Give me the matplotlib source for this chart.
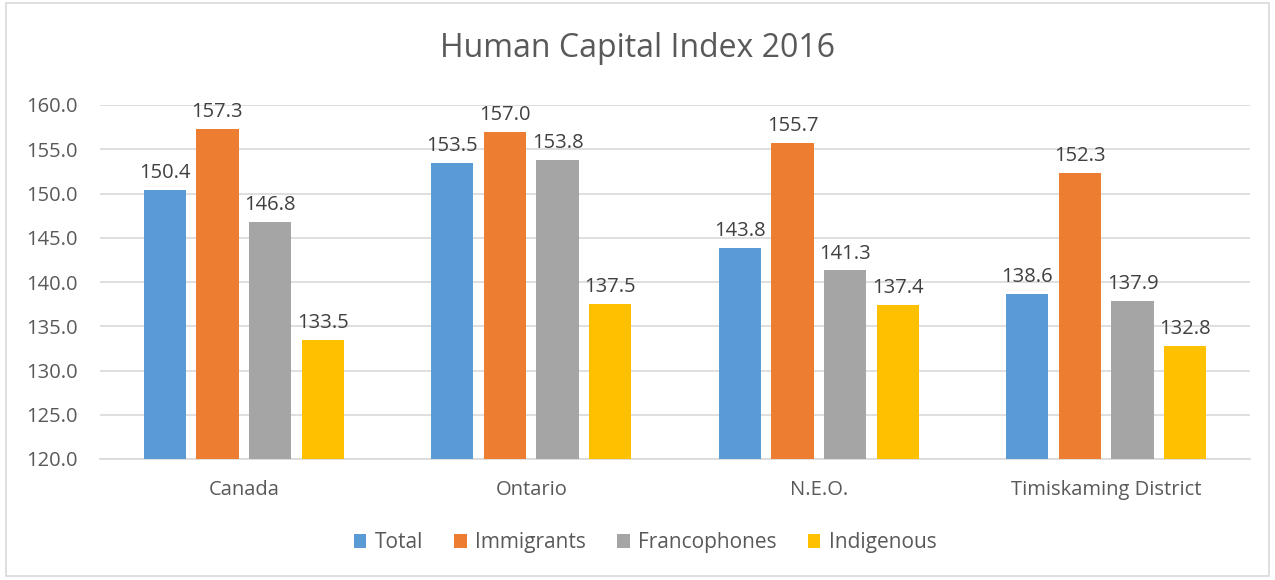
import numpy as np
import matplotlib.pyplot as plt

plt.rcParams['font.family'] = ['Open Sans', 'DejaVu Sans']

regions = ['Canada', 'Ontario', 'N.E.O.', 'Timiskaming District']
series = ['Total', 'Immigrants', 'Francophones', 'Indigenous']
total = [150.4, 153.5, 143.8, 138.6]
immigrants = [157.3, 157.0, 155.7, 152.3]
francophones = [146.8, 153.8, 141.3, 137.9]
indigenous = [133.5, 137.5, 137.4, 132.8]
colors = ['#5b9bd5', '#ed7d31', '#a5a5a5', '#ffc000']

fig = plt.figure(figsize=(12.75, 5.8), dpi=100)
ax = fig.add_axes([100 / 1275, 1 - 459 / 580, 1150 / 1275, 354 / 580])

x = np.arange(len(regions))
width = 0.147
step = 0.183
for i, (name, vals) in enumerate(zip(series, [total, immigrants, francophones, indigenous])):
    pos = x + (i - 1.5) * step
    ax.bar(pos, np.array(vals) - 120, width, bottom=120, color=colors[i], label=name, zorder=3)
    for p, v in zip(pos, vals):
        ax.annotate(f'{v:.1f}', (p, v), xytext=(0, 5), textcoords='offset points',
                    ha='center', va='bottom', fontsize=14.5, color='#404040')

ax.set_ylim(120, 160)
ax.set_yticks(np.arange(120, 161, 5))
ax.set_yticklabels([f'{v:.1f}' for v in np.arange(120, 161, 5)])
ax.set_xlim(-0.5, 3.5)
ax.set_xticks(x)
ax.set_xticklabels(regions)
ax.tick_params(axis='both', length=0, labelsize=14.5, labelcolor='#595959')
ax.tick_params(axis='x', pad=15)
ax.tick_params(axis='y', pad=16)
ax.grid(axis='y', color='#d9d9d9', linewidth=1.2, zorder=0)
for s in ['top', 'right', 'left']:
    ax.spines[s].set_visible(False)
ax.spines['bottom'].set_color('#d9d9d9')
ax.spines['bottom'].set_linewidth(1.2)

fig.text(0.5, 0.917, 'Human Capital Index 2016', ha='center', va='center', fontsize=23, color='#595959')
fig.legend(loc='center', bbox_to_anchor=(645 / 1275, 0.064), ncol=4, frameon=False,
           fontsize=15, handlelength=0.6, handleheight=0.6, handletextpad=0.4,
           columnspacing=1.5, labelcolor='#595959')

border = plt.Rectangle((0.005, 0.007), 0.99, 0.988, transform=fig.transFigure,
                       fill=False, edgecolor='#d9d9d9', linewidth=1.2)
fig.patches.append(border)

fig.savefig('out.png', dpi=100)
